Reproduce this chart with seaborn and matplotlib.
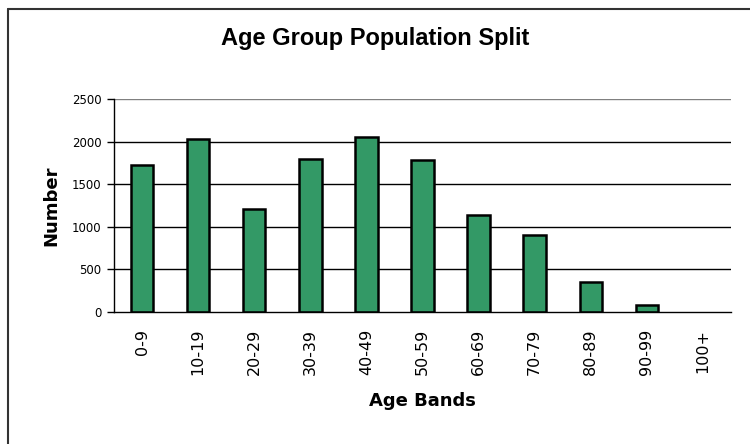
import numpy as np
import pandas as pd
import matplotlib
matplotlib.use("Agg")
import matplotlib.pyplot as plt
from matplotlib.lines import Line2D
import seaborn as sns

# values
age_bands = ["0-9", "10-19", "20-29", "30-39", "40-49", "50-59",
             "60-69", "70-79", "80-89", "90-99", "100+"]
counts = [1730, 2035, 1207, 1800, 2058, 1785, 1138, 905, 349, 81, 0]
y_ticks = [0, 500, 1000, 1500, 2000, 2500]

df = pd.DataFrame({"band": age_bands, "number": counts})

sns.set_theme(style="white")
plt.rcParams["font.family"] = ["DejaVu Sans"]
plt.rcParams["text.color"] = "black"
plt.rcParams["axes.labelcolor"] = "black"

fig = plt.figure(figsize=(7.5, 4.44), dpi=100)
ax = fig.add_axes([114 / 750, 1 - 312 / 444, (731 - 114) / 750, (312 - 99) / 444])

# gridlines behind the bars
for t in y_ticks[1:]:
    ax.axhline(t, color="#808080" if t == y_ticks[-1] else "black", lw=1, zorder=0)

sns.barplot(data=df, x="band", y="number", order=age_bands, color="#339966",
            saturation=1, width=0.4, edgecolor="black", linewidth=1.8, ax=ax, zorder=2)

# an empty category shows no outline
for p in ax.patches:
    if p.get_height() == 0:
        p.set_visible(False)

ax.set_ylim(0, 2500)
ax.set_xlim(-0.5, len(age_bands) - 0.5)
ax.set_yticks(y_ticks)
ax.set_yticklabels([str(t) for t in y_ticks], fontsize=8.5)

# labels at category centres, tick marks at category boundaries
ax.set_xticks(range(len(age_bands)))
ax.set_xticklabels(age_bands, rotation=90, fontsize=11.5)
ax.set_xticks(np.arange(-0.5, len(age_bands)), minor=True)
ax.tick_params(axis="x", which="major", length=0, pad=12)
ax.tick_params(axis="x", which="minor", length=5, width=1, color="black", direction="out")
ax.tick_params(axis="y", length=5, width=1, color="black", direction="out", left=True, pad=4)
ax.tick_params(labelcolor="black")

for side in ["top", "right"]:
    ax.spines[side].set_visible(False)
for side in ["left", "bottom"]:
    ax.spines[side].set_color("black")
    ax.spines[side].set_linewidth(1)

ax.set_xlabel("Age Bands", fontsize=13, fontweight="bold", labelpad=12)
ax.set_ylabel("Number", fontsize=13, fontweight="bold", labelpad=8)
fig.text(0.5, 1 - 38 / 444, "Age Group Population Split", ha="center", va="center",
         fontsize=17, fontweight="bold", family="Liberation Sans")

# chart area border (only left and top edges are visible in the crop)
fig.add_artist(Line2D([8 / 750, 8 / 750], [0, 1 - 9 / 444], color="#333333", lw=1.5))
fig.add_artist(Line2D([8 / 750, 1], [1 - 9 / 444, 1 - 9 / 444], color="#333333", lw=1.5))

fig.savefig("out.png", dpi=100, facecolor="white")
